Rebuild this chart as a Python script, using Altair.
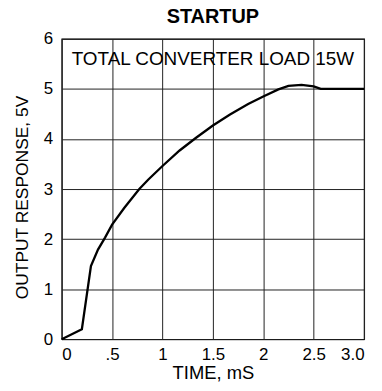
import altair as alt
import pandas as pd

# Output response (V) vs time (ms)
time_ms = [0, 0.2, 0.29, 0.36, 0.43, 0.5, 0.62, 0.77, 0.86, 1.0, 1.17, 1.33,
           1.5, 1.67, 1.85, 2.0, 2.15, 2.25, 2.38, 2.5, 2.57, 3.0]
volts = [0, 0.2, 1.46, 1.79, 2.03, 2.29, 2.62, 3.0, 3.19, 3.46, 3.77, 4.02,
         4.27, 4.49, 4.70, 4.85, 4.99, 5.06, 5.08, 5.05, 5.0, 5.0]

x_ticks = [0, 0.5, 1, 1.5, 2, 2.5, 3]
y_ticks = [0, 1, 2, 3, 4, 5, 6]

note_text = ["TOTAL CONVERTER LOAD 15W"]
note_t = [1.5]
note_v = [5.6]

df = pd.DataFrame({"t": time_ms, "v": volts})
note_df = pd.DataFrame({"t": note_t, "v": note_v, "label": note_text})

FONT = "Liberation Sans"

x_scale = alt.Scale(domain=[0, 3], nice=False)
y_scale = alt.Scale(domain=[0, 6], nice=False)

common = dict(
    grid=True, ticks=False, domain=False, labelOverlap=False,
    labelFont=FONT, titleFont=FONT, labelFontSize=17,
    labelColor="black", titleColor="black", titleFontWeight="normal",
    gridColor="#222222", gridOpacity=1, gridWidth=1,
)

x_axis = alt.Axis(
    values=x_ticks,
    title="TIME, mS",
    format=".1~f",
    labelExpr="datum.value == 0.5 ? '.5' : (datum.value == 3 ? '3.0' : datum.label)",
    labelPadding=7,
    titlePadding=1,
    titleFontSize=18.5,
    **common,
)
y_axis = alt.Axis(
    values=y_ticks,
    title="OUTPUT RESPONSE, 5V",
    labelPadding=9,
    titlePadding=12,
    titleFontSize=17.5,
    titleY=159,
    **common,
)

line = alt.Chart(df).mark_line(color="black", strokeWidth=2.3).encode(
    x=alt.X("t:Q", scale=x_scale, axis=x_axis),
    y=alt.Y("v:Q", scale=y_scale, axis=y_axis),
)

note = alt.Chart(note_df).mark_text(
    font=FONT, fontSize=19, color="black", baseline="middle", align="center"
).encode(
    x=alt.X("t:Q", scale=x_scale),
    y=alt.Y("v:Q", scale=y_scale),
    text="label:N",
)

chart = (
    alt.layer(line, note)
    .properties(
        width=304,
        height=302,
        background="white",
        title=alt.TitleParams(
            "STARTUP", fontSize=20, fontWeight="bold", font=FONT,
            anchor="middle", frame="group", offset=3, color="black",
        ),
        autosize=alt.AutoSizeParams(type="none"),
        padding={"left": 54, "top": 30, "right": 10, "bottom": 45},
    )
    .configure_view(stroke="black", strokeWidth=1.2)
)

chart.save("out.html", embed_options={"renderer": "svg", "actions": False})
